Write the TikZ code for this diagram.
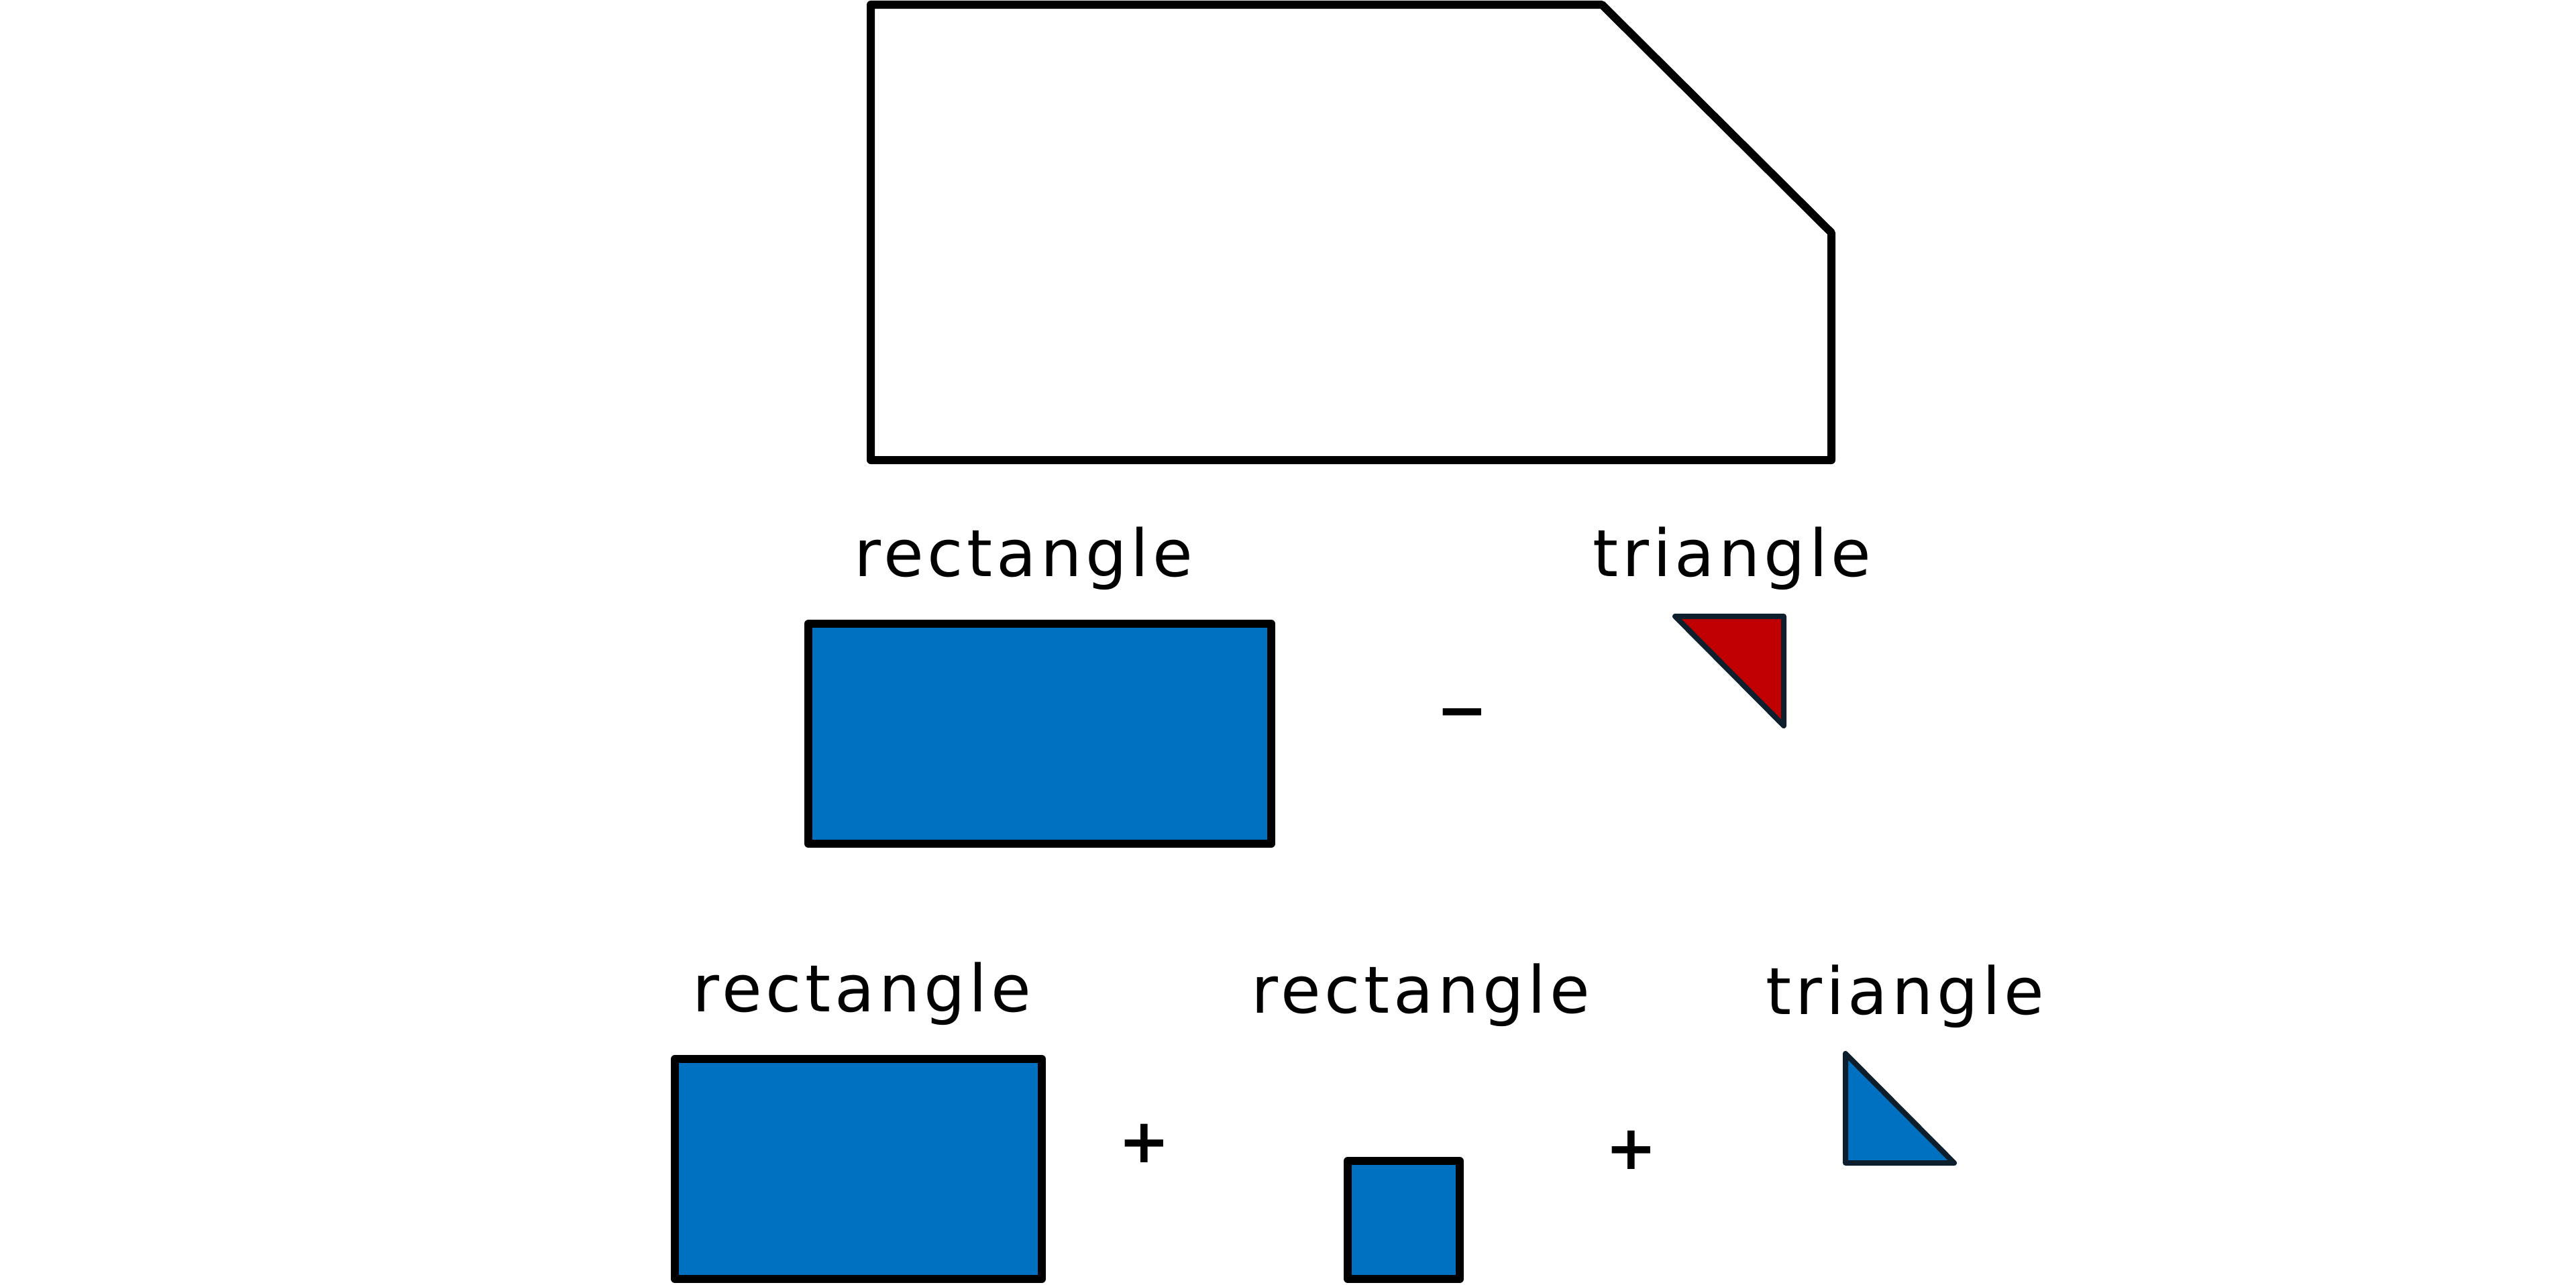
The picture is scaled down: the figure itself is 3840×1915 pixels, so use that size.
\documentclass[tikz,border=0pt]{standalone}
\usepackage{fontspec}
\newfontfamily\hand[LetterSpace=6]{DejaVu Sans}
\newfontfamily\handsym{DejaVu Sans}
\definecolor{shapeblue}{HTML}{0070C0}
\definecolor{shapered}{HTML}{C00000}
\definecolor{navy}{HTML}{0D1F2D}
\tikzset{
  outline/.style={draw=black,line width=0.12cm,line join=round},
  rectshape/.style={outline,fill=shapeblue},
  trishape/.style={draw=navy,line width=0.08cm,line join=round},
  label/.style={inner sep=0pt,anchor=base,font=\hand\fontsize{27.6pt}{33pt}\selectfont},
  opsign/.style={inner sep=0pt,anchor=center,font=\handsym\bfseries\fontsize{26pt}{30pt}\selectfont}
}
\begin{document}
\begin{tikzpicture}[x=0.01cm,y=-0.01cm]
\useasboundingbox (0,0) rectangle (3840,1915);
% whole shape
\coordinate (p1) at (1298,7);
\coordinate (p2) at (2388,7);
\coordinate (p3) at (2730,347);
\coordinate (p4) at (2730,686);
\coordinate (p5) at (1298,686);
\draw[outline,fill=white] (p1) -- (p2) -- (p3) -- (p4) -- (p5) -- cycle;
% row 2
\node[label] (lr1) at (1526,859) {rectangle};
\node[label] (lt1) at (2582,859) {triangle};
\draw[rectshape] (1205,930) rectangle (1895,1258);
\node[opsign] (minus) at (2180,1074) {−};
\draw[trishape,fill=shapered] (2497,919) -- (2659,919) -- (2659,1082) -- cycle;
% row 3
\node[label] (lr2) at (1285,1508) {rectangle};
\node[label] (lr3) at (2118,1510) {rectangle};
\node[label] (lt2) at (2840,1512) {triangle};
\draw[rectshape] (1006,1579) rectangle (1553,1907);
\node[opsign] (plus1) at (1706,1705) {+};
\draw[rectshape] (2009,1731) rectangle (2176,1907);
\node[opsign] (plus2) at (2432,1715) {+};
\draw[trishape,fill=shapeblue] (2751,1571) -- (2751,1734) -- (2913,1734) -- cycle;
\end{tikzpicture}
\end{document}
